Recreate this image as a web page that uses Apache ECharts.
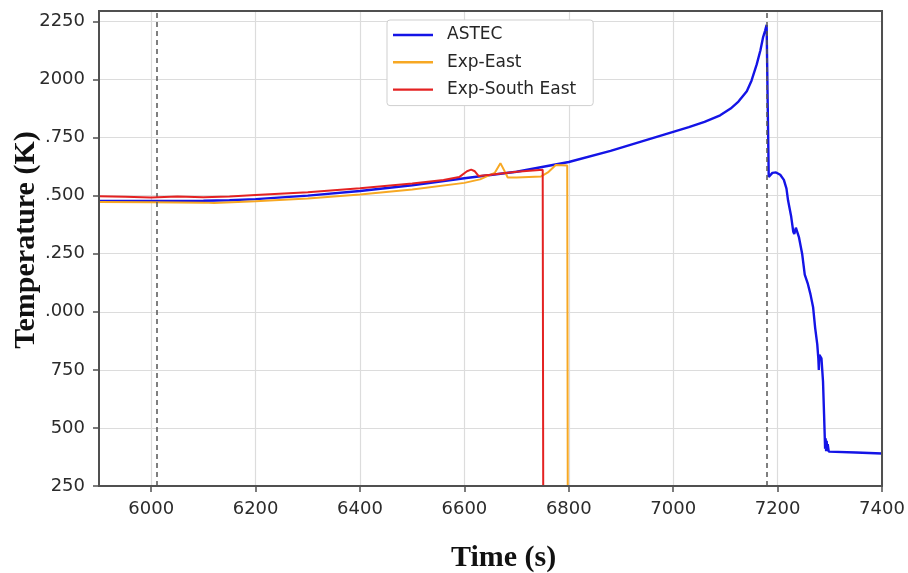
<!DOCTYPE html>
<html>
<head>
<meta charset="utf-8">
<script src="https://cdn.jsdelivr.net/npm/echarts@6/dist/echarts.min.js"></script>
<style>
  html, body { margin: 0; padding: 0; background: #fff; }
  #chart { width: 908px; height: 573px; }
</style>
</head>
<body>
<div id="chart"></div>
<script>
// Axis ticks and their printed labels
const xTicks = [6000, 6200, 6400, 6600, 6800, 7000, 7200, 7400];
const yTicks = [250, 500, 750, 1000, 1250, 1500, 1750, 2000, 2250];
const yTickLabels = ['250', '500', '750', '.000', '.250', '.500', '.750', '2000', '2250'];

// Vertical reference times (dashed)
const markerTimes = [6010, 7180];

// ASTEC simulation
const astecTime = [5900, 6000, 6100, 6150, 6200, 6300, 6400, 6500, 6600, 6700, 6800, 6880, 7000, 7030,
  7060, 7090, 7110, 7125, 7141, 7150, 7160, 7167, 7172, 7176, 7179, 7181, 7183, 7186, 7190, 7197,
  7205, 7212, 7217, 7220, 7226, 7230, 7232, 7235, 7238, 7241, 7247, 7252, 7258, 7263, 7268, 7272,
  7276, 7278, 7279, 7280, 7282, 7284, 7287, 7289, 7291, 7292, 7293, 7294, 7295, 7296, 7298, 7300,
  7350, 7400];
const astecTemp = [1477, 1477, 1478, 1480, 1485, 1500, 1520, 1545, 1575, 1603, 1645, 1693, 1775, 1795,
  1818, 1846, 1875, 1905, 1950, 1995, 2065, 2125, 2180, 2210, 2235, 1900, 1580, 1585, 1598, 1600,
  1590, 1568, 1530, 1480, 1410, 1345, 1335, 1362, 1360, 1320, 1250, 1160, 1120, 1075, 1020, 930,
  860, 800, 750, 815, 815, 800, 700, 560, 410, 455, 400, 445, 400, 430, 398, 397,
  394, 390];

// Thermocouple, east side
const eastTime = [5900, 6000, 6100, 6120, 6200, 6300, 6400, 6500, 6600, 6630, 6645, 6658, 6669, 6676,
  6683, 6700, 6747, 6760, 6775, 6797, 6798];
const eastTemp = [1473, 1472, 1470, 1468, 1476, 1488, 1505, 1527, 1555, 1570, 1585, 1598, 1640, 1610,
  1578, 1578, 1583, 1600, 1632, 1630, 250];

// Thermocouple, south-east side
const southEastTime = [5900, 5950, 6000, 6050, 6100, 6150, 6200, 6300, 6400, 6500, 6560, 6590, 6605,
  6613, 6620, 6627, 6650, 6700, 6750, 6751];
const southEastTemp = [1497, 1495, 1492, 1496, 1493, 1496, 1503, 1515, 1532, 1552, 1567, 1580, 1605,
  1612, 1605, 1585, 1590, 1603, 1612, 250];

const pairs = (t, v) => t.map((x, i) => [x, v[i]]);

const tickFont = { fontFamily: 'DejaVu Sans', fontSize: 18, color: '#2b2b2b' };
const titleFont = { fontFamily: 'Liberation Serif', fontWeight: 'bold', fontSize: 30, fill: '#111' };
const axisColor = '#505050';
const gridColor = '#dcdcdc';

const chart = echarts.init(document.getElementById('chart'), null, { renderer: 'canvas' });
chart.setOption({
  animation: false,
  backgroundColor: '#fff',
  grid: { left: 99, right: 26, top: 11, bottom: 87, containLabel: false },
  legend: {
    orient: 'vertical',
    left: 387,
    top: 20,
    icon: 'rect',
    itemWidth: 40,
    itemHeight: 2.4,
    itemGap: 7.3,
    padding: [5, 17, 6, 6],
    borderColor: '#cfcfcf',
    borderWidth: 1,
    borderRadius: 3,
    backgroundColor: '#fff',
    textStyle: { fontFamily: 'DejaVu Sans', fontSize: 17, color: '#262626', lineHeight: 20, padding: [0, 0, 0, 9] },
    data: ['ASTEC', 'Exp-East', 'Exp-South East']
  },
  xAxis: {
    type: 'value',
    min: 5900,
    max: 7400,
    axisLine: { show: true, onZero: false, lineStyle: { color: axisColor, width: 2 } },
    axisTick: { show: true, length: 6, customValues: xTicks, lineStyle: { color: axisColor, width: 1.5 } },
    axisLabel: { customValues: xTicks, margin: 14, formatter: (v) => String(v), ...tickFont },
    splitLine: { show: true, lineStyle: { color: gridColor, width: 1.2 } }
  },
  yAxis: {
    type: 'value',
    min: 250,
    max: 2295,
    axisLine: { show: true, onZero: false, lineStyle: { color: axisColor, width: 2 } },
    axisTick: { show: true, length: 6, customValues: yTicks, lineStyle: { color: axisColor, width: 1.5 } },
    axisLabel: {
      customValues: yTicks,
      margin: 14,
      formatter: (v) => { const i = yTicks.indexOf(v); return i >= 0 ? yTickLabels[i] : ''; },
      ...tickFont
    },
    splitLine: { show: true, lineStyle: { color: gridColor, width: 1.2 } }
  },
  series: [
    {
      name: 'ASTEC', type: 'line', symbol: 'none', data: pairs(astecTime, astecTemp),
      lineStyle: { color: '#1414e6', width: 2.4 }, itemStyle: { color: '#1414e6' }, z: 3,
      markLine: {
        silent: true, symbol: 'none', label: { show: false },
        lineStyle: { color: '#555', type: [5, 4], width: 1.5 },
        data: markerTimes.map(t => ({ xAxis: t }))
      }
    },
    {
      name: 'Exp-East', type: 'line', symbol: 'none', data: pairs(eastTime, eastTemp),
      lineStyle: { color: '#f7a823', width: 2 }, itemStyle: { color: '#f7a823' }, z: 4
    },
    {
      name: 'Exp-South East', type: 'line', symbol: 'none', data: pairs(southEastTime, southEastTemp),
      lineStyle: { color: '#e42222', width: 2 }, itemStyle: { color: '#e42222' }, z: 5
    }
  ]
});

// Plot frame and axis titles
const gridRect = chart.getModel().getComponent('grid').coordinateSystem.getRect();
chart.setOption({
  graphic: [
    {
      type: 'rect', silent: true, z: 10,
      shape: { x: gridRect.x, y: gridRect.y, width: gridRect.width, height: gridRect.height },
      style: { fill: 'none', stroke: axisColor, lineWidth: 2 }
    },
    {
      type: 'text', silent: true, left: 503 - 52, top: 543,
      style: { text: 'Time (s)', ...titleFont }
    },
    {
      type: 'text', silent: true, x: 11, y: 240, rotation: Math.PI / 2,
      style: { text: 'Temperature (K)', align: 'center', verticalAlign: 'top', ...titleFont }
    }
  ]
});
</script>
</body>
</html>
